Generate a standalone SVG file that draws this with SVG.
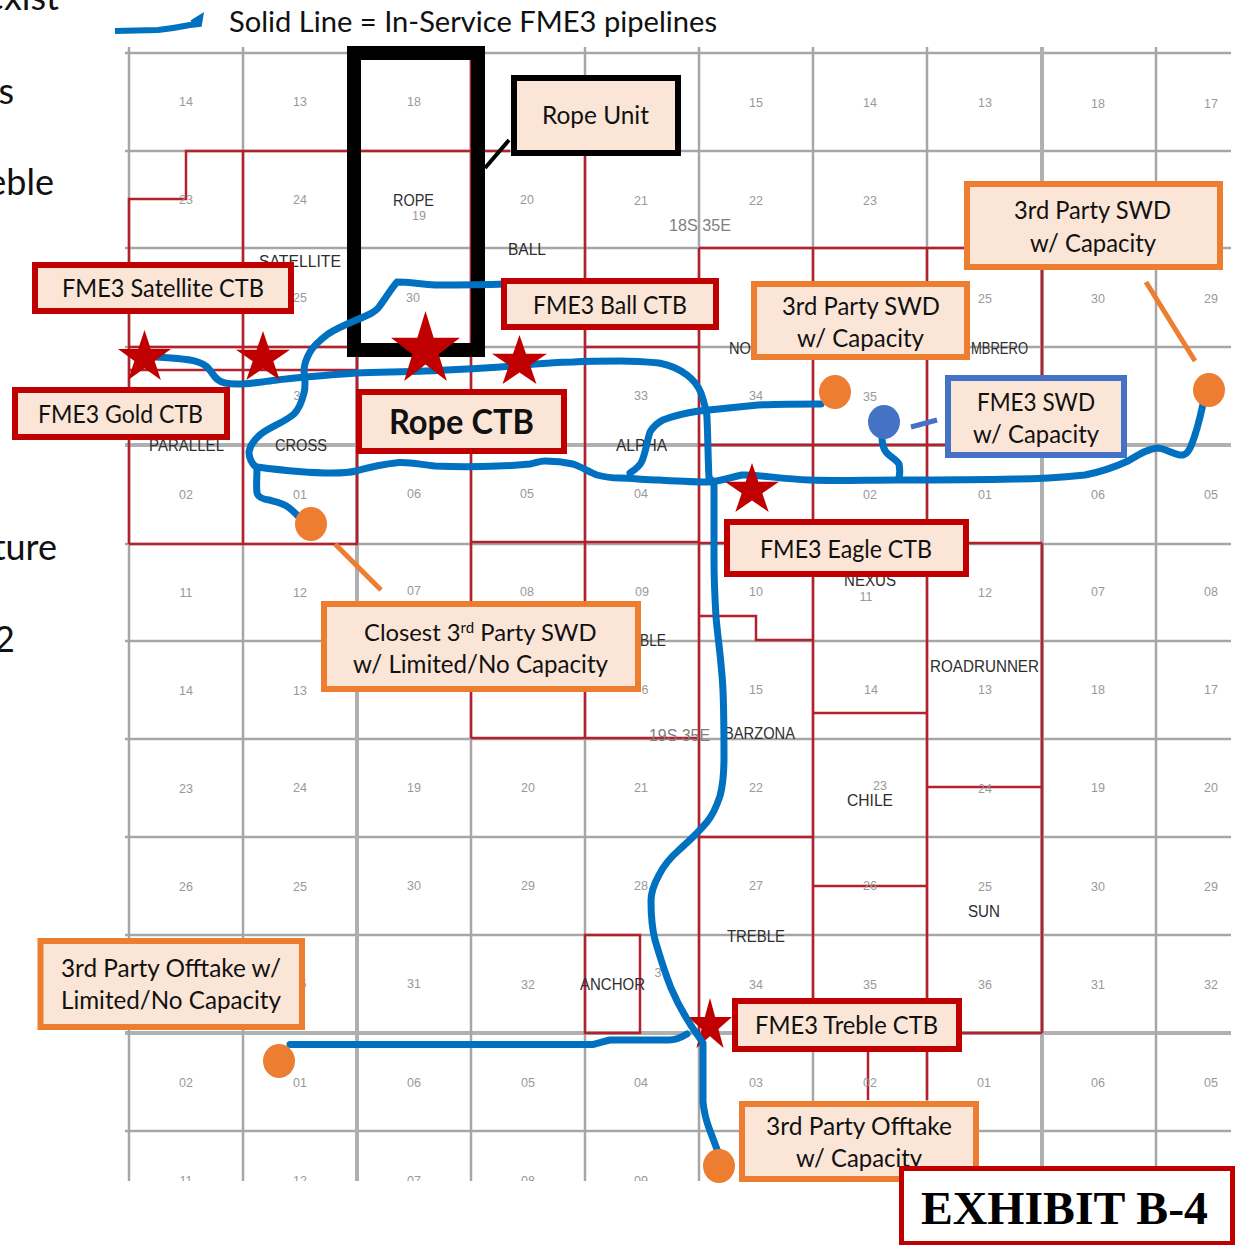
<svg xmlns="http://www.w3.org/2000/svg" xmlns:xlink="http://www.w3.org/1999/xlink" width="1237" height="1245" viewBox="0 0 1237 1245">
<style>
text{font-family:"Liberation Sans",Arial,sans-serif}
.g{fill:none;stroke:#a6a6a6;stroke-width:2.500}
.gt{fill:none;stroke:#b0b0b0;stroke-width:4}
.r{fill:none;stroke:#b5202f;stroke-width:2.500}
.n{font-size:12.500px;fill:#999;text-anchor:middle}
.f{font-size:16px;fill:#2e2e2e}
.t{font-size:17px;fill:#808080}
.l{font-family:Lato,"Open Sans",sans-serif;font-size:25px;fill:#111}
.big{font-family:Lato,"Open Sans",sans-serif;font-size:36px;fill:#111;text-anchor:end}
.p{fill:none;stroke:#0070c0;stroke-width:7;stroke-linecap:round;stroke-linejoin:round}
.b{fill:#fbe5d6;stroke-width:6}
.red{stroke:#c00000}.or{stroke:#ed7d31}.bl{stroke:#4472c4}.bk{stroke:#000}
.s{fill:#c00000}
.od{fill:#ed7d31}
</style>
<defs>
<polygon id="star" points="0.5,0 0.618,0.382 1,0.382 0.691,0.618 0.809,1 0.5,0.764 0.191,1 0.309,0.618 0,0.382 0.382,0.382"/>
<clipPath id="mapclip"><rect x="0" y="40" width="1237" height="1141"/></clipPath>
</defs>
<rect width="1237" height="1245" fill="#fff"/>
<g id="legend-crop">
<text class="big" x="59" y="10">exist</text>
<text class="big" x="14" y="104">s</text>
<text class="big" x="54" y="195">eble</text>
<text class="big" x="57" y="560">ture</text>
<text class="big" x="15" y="652">2</text>
<text class="l" x="229" y="32" style="font-size:28px" textLength="488" lengthAdjust="spacingAndGlyphs">Solid Line = In-Service FME3 pipelines</text>
<path d="M115 31L158 30Q175 28 190 25L199 24L200 18L192 23" fill="none" stroke="#0070c0" stroke-width="6"/>
</g>
<g id="map" clip-path="url(#mapclip)">
<path class="g" d="M125 53H1231M125 151H1231M125 248H1231M125 347H1231M125 544H1231M125 641H1231M125 739H1231M125 837H1231M125 935H1231M125 1131H1231"/>
<path class="gt" d="M125 445H1231M125 1033H1231"/>
<path class="g" d="M129 47V1181M243 47V1181M471 47V1181M585 47V1181M699 47V1181M813 47V1181M927 47V1181M1156 47V1181"/>
<path class="gt" d="M357 47V1181M1042 47V1181"/>
<path class="r" d="M129 544V199H186V151H510M243 151V544M129 347H357M129 370H357M129 544H357V347M471 53V738M471 542H699M471 738H699M585 151V738M585 347H699M699 248V1033M699 248H1042M813 248V1000M927 248V1100M1042 248V375M699 445H945M699 543H1042M1042 543V1033M699 616H756V640H813M813 640V1033M699 837H813M813 713H927M927 787H1042M813 886H927M927 1033H1042M868 1050V1100M585 935H640V1033H585Z"/>
<g class="nums">
<text class="n" x="186" y="106">14</text><text class="n" x="300" y="106">13</text><text class="n" x="414" y="106">18</text><text class="n" x="756" y="107">15</text><text class="n" x="870" y="107">14</text><text class="n" x="985" y="107">13</text><text class="n" x="1098" y="108">18</text><text class="n" x="1211" y="108">17</text>
<text class="n" x="186" y="204">23</text><text class="n" x="300" y="204">24</text><text class="n" x="419" y="220">19</text><text class="n" x="527" y="204">20</text><text class="n" x="641" y="205">21</text><text class="n" x="756" y="205">22</text><text class="n" x="870" y="205">23</text>
<text class="n" x="300" y="302">25</text><text class="n" x="413" y="302">30</text><text class="n" x="985" y="303">25</text><text class="n" x="1098" y="303">30</text><text class="n" x="1211" y="303">29</text>
<text class="n" x="641" y="400">33</text><text class="n" x="756" y="400">34</text><text class="n" x="870" y="401">35</text><text class="n" x="297" y="400">3</text>
<text class="n" x="186" y="499">02</text><text class="n" x="300" y="499">01</text><text class="n" x="414" y="498">06</text><text class="n" x="527" y="498">05</text><text class="n" x="641" y="498">04</text><text class="n" x="870" y="499">02</text><text class="n" x="985" y="499">01</text><text class="n" x="1098" y="499">06</text><text class="n" x="1211" y="499">05</text>
<text class="n" x="186" y="597">11</text><text class="n" x="300" y="597">12</text><text class="n" x="414" y="595">07</text><text class="n" x="527" y="596">08</text><text class="n" x="642" y="596">09</text><text class="n" x="756" y="596">10</text><text class="n" x="866" y="601">11</text><text class="n" x="985" y="597">12</text><text class="n" x="1098" y="596">07</text><text class="n" x="1211" y="596">08</text>
<text class="n" x="186" y="695">14</text><text class="n" x="300" y="695">13</text><text class="n" x="645" y="694">6</text><text class="n" x="756" y="694">15</text><text class="n" x="871" y="694">14</text><text class="n" x="985" y="694">13</text><text class="n" x="1098" y="694">18</text><text class="n" x="1211" y="694">17</text>
<text class="n" x="186" y="793">23</text><text class="n" x="300" y="792">24</text><text class="n" x="414" y="792">19</text><text class="n" x="528" y="792">20</text><text class="n" x="641" y="792">21</text><text class="n" x="756" y="792">22</text><text class="n" x="880" y="790">23</text><text class="n" x="985" y="793">24</text><text class="n" x="1098" y="792">19</text><text class="n" x="1211" y="792">20</text>
<text class="n" x="186" y="891">26</text><text class="n" x="300" y="891">25</text><text class="n" x="414" y="890">30</text><text class="n" x="528" y="890">29</text><text class="n" x="641" y="890">28</text><text class="n" x="756" y="890">27</text><text class="n" x="870" y="890">26</text><text class="n" x="985" y="891">25</text><text class="n" x="1098" y="891">30</text><text class="n" x="1211" y="891">29</text>
<text class="n" x="303" y="988">5</text><text class="n" x="414" y="988">31</text><text class="n" x="528" y="989">32</text><text class="n" x="658" y="977">3</text><text class="n" x="756" y="989">34</text><text class="n" x="870" y="989">35</text><text class="n" x="985" y="989">36</text><text class="n" x="1098" y="989">31</text><text class="n" x="1211" y="989">32</text>
<text class="n" x="186" y="1087">02</text><text class="n" x="300" y="1087">01</text><text class="n" x="414" y="1087">06</text><text class="n" x="528" y="1087">05</text><text class="n" x="641" y="1087">04</text><text class="n" x="756" y="1087">03</text><text class="n" x="870" y="1087">02</text><text class="n" x="984" y="1087">01</text><text class="n" x="1098" y="1087">06</text><text class="n" x="1211" y="1087">05</text>
<text class="n" x="186" y="1185">11</text><text class="n" x="300" y="1185">12</text><text class="n" x="414" y="1185">07</text><text class="n" x="528" y="1185">08</text><text class="n" x="641" y="1185">09</text>
</g>
<g class="names">
<text class="f" x="393" y="206" textLength="41" lengthAdjust="spacingAndGlyphs">ROPE</text>
<text class="f" x="508" y="255" textLength="38" lengthAdjust="spacingAndGlyphs">BALL</text>
<text class="f" x="259" y="267" textLength="82" lengthAdjust="spacingAndGlyphs">SATELLITE</text>
<text class="f" x="149" y="451" textLength="75" lengthAdjust="spacingAndGlyphs">PARALLEL</text>
<text class="f" x="275" y="451" textLength="52" lengthAdjust="spacingAndGlyphs">CROSS</text>
<text class="f" x="616" y="451" textLength="51" lengthAdjust="spacingAndGlyphs">ALPHA</text>
<text class="f" x="729" y="354" textLength="22" lengthAdjust="spacingAndGlyphs">NO</text>
<text class="f" x="971" y="354" textLength="57" lengthAdjust="spacingAndGlyphs">MBRERO</text>
<text class="f" x="640" y="646" textLength="26" lengthAdjust="spacingAndGlyphs">BLE</text>
<text class="f" x="844" y="586" textLength="52" lengthAdjust="spacingAndGlyphs">NEXUS</text>
<text class="f" x="930" y="672" textLength="109" lengthAdjust="spacingAndGlyphs">ROADRUNNER</text>
<text class="f" x="724" y="739" textLength="71" lengthAdjust="spacingAndGlyphs">BARZONA</text>
<text class="f" x="847" y="806" textLength="46" lengthAdjust="spacingAndGlyphs">CHILE</text>
<text class="f" x="968" y="917" textLength="32" lengthAdjust="spacingAndGlyphs">SUN</text>
<text class="f" x="727" y="942" textLength="58" lengthAdjust="spacingAndGlyphs">TREBLE</text>
<text class="f" x="580" y="990" textLength="65" lengthAdjust="spacingAndGlyphs">ANCHOR</text>
<text class="t" x="669" y="231" textLength="62" lengthAdjust="spacingAndGlyphs">18S 35E</text>
<text class="t" x="649" y="741" textLength="61" lengthAdjust="spacingAndGlyphs">19S 35E</text>
</g>
</g>
<g id="rope-unit-outline"><rect x="354" y="53" width="124" height="297" fill="none" stroke="#000" stroke-width="14"/></g>
<use id="star-treble" href="#star" class="s" transform="translate(688,998) scale(44,50)"/>
<g id="connectors">
<path class="p" d="M156 357C175 358 190 359 198 362C207 365 209 369 212 373C216 379 219 382 225 383C240 386 260 382 277 380C300 377 330 375 356 373C380 372 405 372 425 371C455 370 485 368 514 366C535 364 555 362 573 362C590 361 610 361 620 361C635 361 648 362 659 363C670 365 679 369 687 375C695 381 699 388 701 393C705 405 707 412 707 418C708 440 708 460 709 478L714 482C714 510 714 535 714 560C714 580 715 600 716 617C718 640 722 665 723 691C724 715 724 737 724 757C724 772 723 785 720 796C716 808 712 816 707 822C698 833 689 841 679 850C671 857 664 865 659 875C654 884 651 892 651 901C651 915 652 928 655 940C660 957 665 973 671 988C679 1007 690 1025 701 1040"/>
<path class="p" d="M505 284C480 285 455 285 435 285C420 284 408 282 397 282C391 289 385 299 379 307C376 311 374 312 370 314C355 321 340 326 328 334C320 340 314 345 310 352C306 359 304 365 304 371C305 379 306 386 304 393C302 401 299 409 294 414C285 422 270 427 261 434C255 439 250 445 249 452C249 458 252 464 257 468C257 478 256 486 257 493C258 497 262 499 269 500C277 502 283 503 288 507C292 510 295 513 298 516"/>
<path class="p" d="M257 467C280 470 305 473 332 473C340 473 348 473 356 471C370 467 385 464 399 462.500C411 462 423 465 435 466C455 467 477 467 498 466C510 466 520 465 530 464C536 463 540 461 545 461C555 461 564 462 573 464C582 467 589 472 597 475C604 477 612 478 620 478C632 478 645 480 659 480C677 481 694 482 710 482C722 481 732 477 742 475C755 474 780 479 809 480C835 481 865 480 896 480C935 480 975 480 1014 479C1040 479 1065 477 1085 475C1100 472 1115 467 1128 461C1138 455 1147 449 1157 448C1166 448 1175 456 1183 455C1187 454 1189 451 1191 446C1196 434 1200 418 1203 404"/>
<path class="p" d="M630 473C636 469 640 466 642 461C646 451 647 441 650 432C653 427 657 423 663 420C673 416 686 413 699 411C718 409 738 407 758 405C780 404 800 404 821 404"/>
<path class="p" d="M882 437C882 443 883 448 886 452C890 457 896 459 899 464C900 469 900 474 899 478"/>
<path class="p" d="M290 1044.500C390 1044 490 1045 593 1044.500C600 1043 605 1041 610 1040C630 1040 650 1040 669 1040C676 1040 682 1037 687 1034"/>
<path class="p" d="M703 1043C703 1062 703 1082 703 1102C704 1112 706 1120 709 1128C712 1136 715 1144 718 1152"/>
<path d="M485 168L509 140" stroke="#000" stroke-width="4" fill="none"/>
<path d="M335 544L381 590" class="or" stroke-width="5" fill="none"/>
<path d="M1146 282L1195 361" class="or" stroke-width="5" fill="none"/>
<path d="M911 427L937 420" class="bl" stroke-width="5" fill="none"/>
</g>
<use id="star-gold" href="#star" class="s" transform="translate(118,330) scale(53,50)"/>
<use id="star-satellite" href="#star" class="s" transform="translate(236,331) scale(54,49)"/>
<use id="star-rope" href="#star" class="s" transform="translate(391,311) scale(69,70)"/>
<use id="star-ball" href="#star" class="s" transform="translate(492,335) scale(55,49)"/>
<use id="star-eagle" href="#star" class="s" transform="translate(725,463) scale(54,49)"/>
<ellipse id="dot-closest" class="od" cx="311" cy="524" rx="16" ry="17"/>
<ellipse id="dot-swd-mid" class="od" cx="835" cy="392" rx="16" ry="17"/>
<ellipse id="dot-swd-right" class="od" cx="1209" cy="390" rx="16" ry="17"/>
<ellipse id="dot-fme3-swd" cx="884" cy="422" rx="16" ry="17" fill="#4472c4"/>
<ellipse id="dot-offtake-left" class="od" cx="279" cy="1061" rx="16" ry="17"/>
<ellipse id="dot-offtake-right" class="od" cx="719" cy="1166" rx="16" ry="17"/>
<g id="rope-unit"><rect class="b bk" x="514" y="78" width="164" height="75"/><text class="l" x="542" y="124" textLength="107" lengthAdjust="spacingAndGlyphs">Rope Unit</text></g>
<g id="satellite-ctb"><rect class="b red" x="35" y="265" width="256" height="46"/><text class="l" x="62" y="297" textLength="202" lengthAdjust="spacingAndGlyphs">FME3 Satellite CTB</text></g>
<g id="gold-ctb"><rect class="b red" x="15" y="390" width="212" height="47"/><text class="l" x="38" y="423" textLength="165" lengthAdjust="spacingAndGlyphs">FME3 Gold CTB</text></g>
<g id="rope-ctb"><rect class="b red" x="359" y="392" width="205" height="59"/><text class="l" x="389" y="434" style="font-size:34px;font-weight:700" textLength="145" lengthAdjust="spacingAndGlyphs">Rope CTB</text></g>
<g id="ball-ctb"><rect class="b red" x="504" y="281" width="212" height="46"/><text class="l" x="533" y="314" textLength="154" lengthAdjust="spacingAndGlyphs">FME3 Ball CTB</text></g>
<g id="swd-right"><rect class="b or" x="967" y="184" width="253" height="83"/><text class="l" x="1014" y="219" textLength="157" lengthAdjust="spacingAndGlyphs">3rd Party SWD</text><text class="l" x="1030" y="252" textLength="126" lengthAdjust="spacingAndGlyphs">w/ Capacity</text></g>
<g id="swd-mid"><rect class="b or" x="754" y="284" width="213" height="73"/><text class="l" x="782" y="315" textLength="158" lengthAdjust="spacingAndGlyphs">3rd Party SWD</text><text class="l" x="797" y="347" textLength="127" lengthAdjust="spacingAndGlyphs">w/ Capacity</text></g>
<g id="fme3-swd"><rect class="b bl" x="948" y="378" width="176" height="77"/><text class="l" x="977" y="411" textLength="118" lengthAdjust="spacingAndGlyphs">FME3 SWD</text><text class="l" x="973" y="443" textLength="126" lengthAdjust="spacingAndGlyphs">w/ Capacity</text></g>
<g id="eagle-ctb"><rect class="b red" x="727" y="522" width="239" height="52"/><text class="l" x="760" y="558" textLength="172" lengthAdjust="spacingAndGlyphs">FME3 Eagle CTB</text></g>
<g id="closest-swd"><rect class="b or" x="324" y="604" width="314" height="85"/><text class="l" x="364" y="641" style="font-size:23.800px">Closest 3<tspan dy="-8" style="font-size:15px">rd</tspan><tspan dy="8"> Party SWD</tspan></text><text class="l" x="353" y="673" textLength="255" lengthAdjust="spacingAndGlyphs">w/ Limited/No Capacity</text></g>
<g id="offtake-left"><rect class="b or" x="40.500" y="941" width="261.500" height="86"/><text class="l" x="61" y="977" textLength="220" lengthAdjust="spacingAndGlyphs">3rd Party Offtake w/</text><text class="l" x="61" y="1009" textLength="220" lengthAdjust="spacingAndGlyphs">Limited/No Capacity</text></g>
<g id="treble-ctb"><rect class="b red" x="735" y="1001" width="224" height="48"/><text class="l" x="755" y="1034" textLength="183" lengthAdjust="spacingAndGlyphs">FME3 Treble CTB</text></g>
<g id="offtake-right"><rect class="b or" x="742" y="1104" width="234" height="75"/><text class="l" x="766" y="1135" textLength="186" lengthAdjust="spacingAndGlyphs">3rd Party Offtake</text><text class="l" x="796" y="1167" textLength="126" lengthAdjust="spacingAndGlyphs">w/ Capacity</text></g>
<g id="exhibit"><rect x="901.500" y="1168.500" width="331" height="75" fill="#fff" stroke="#c00000" stroke-width="5"/><text x="921" y="1224" style="font-family:'Liberation Serif','Times New Roman',serif;font-size:46px;font-weight:700" fill="#000" textLength="287" lengthAdjust="spacingAndGlyphs">EXHIBIT B-4</text></g>
</svg>
